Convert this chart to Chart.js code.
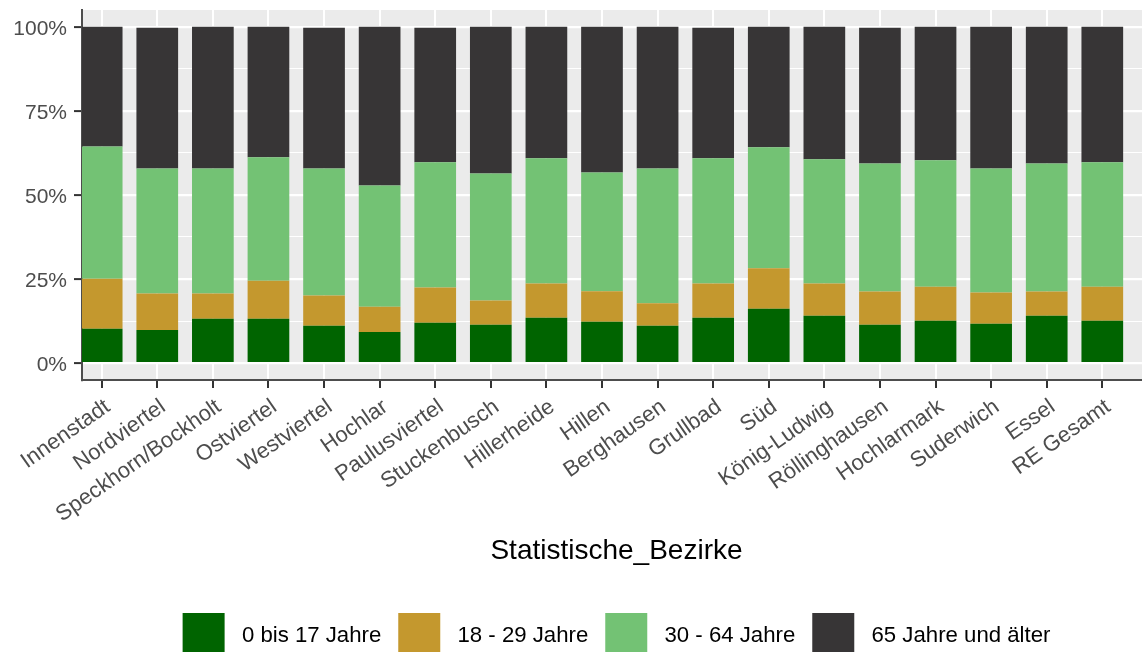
<!DOCTYPE html>
<html>
<head>
<meta charset="utf-8">
<script src="https://cdn.jsdelivr.net/npm/chart.js@4.4.1/dist/chart.umd.min.js"></script>
<style>
  html, body { margin: 0; padding: 0; background: #fff; overflow: hidden; }
  /* the original plot is a little wider than the window and gets cut on the right */
  #wrap { width: 1151px; height: 652px; position: relative; }
</style>
</head>
<body>
<div id="wrap"><canvas id="chart"></canvas></div>
<script>
// districts (x categories)
const bezirke = [
  "Innenstadt", "Nordviertel", "Speckhorn/Bockholt", "Ostviertel", "Westviertel",
  "Hochlar", "Paulusviertel", "Stuckenbusch", "Hillerheide", "Hillen",
  "Berghausen", "Grullbad", "Süd", "König-Ludwig", "Röllinghausen",
  "Hochlarmark", "Suderwich", "Essel", "RE Gesamt"
];

// share of each age group in %
const jahre0_17  = [10.2, 9.9, 13.2, 13.2, 11.1, 9.3, 12.0, 11.4, 13.5, 12.3, 11.1, 13.5, 16.2, 14.1, 11.4, 12.6, 11.7, 14.1, 12.6];
const jahre18_29 = [14.9, 10.8, 7.5, 11.3, 9.0, 7.5, 10.5, 7.2, 10.2, 9.1, 6.7, 10.2, 12.0, 9.6, 9.9, 10.1, 9.3, 7.2, 10.1];
const jahre30_64 = [39.3, 37.2, 37.2, 36.7, 37.8, 36.0, 37.2, 37.8, 37.2, 35.3, 40.1, 37.2, 36.0, 36.9, 38.1, 37.6, 36.9, 38.1, 37.0];
const jahre65    = [35.6, 41.8, 42.1, 38.8, 41.8, 47.2, 40.0, 43.6, 39.1, 43.3, 42.1, 38.8, 35.8, 39.4, 40.3, 39.7, 42.1, 40.6, 40.3];

const gruppen = ["0 bis 17 Jahre", "18 - 29 Jahre", "30 - 64 Jahre", "65 Jahre und älter"];
const farben = ["#006400", "#C4982E", "#73C274", "#373536"];
const yTicks = [0, 25, 50, 75, 100];
const yMinor = [12.5, 37.5, 62.5, 87.5];

const serien = [jahre0_17, jahre18_29, jahre30_64, jahre65];

Chart.defaults.font.family = "'Liberation Sans', Arial, sans-serif";

// grey ggplot panel behind the grid
const panelBg = {
  id: "panelBg",
  beforeDraw(chart) {
    const { ctx, chartArea: a } = chart;
    ctx.save();
    ctx.fillStyle = "#EBEBEB";
    ctx.fillRect(a.left, a.top, a.right - a.left, a.bottom - a.top);
    ctx.restore();
  }
};

const isMajor = v => yTicks.includes(v);

new Chart(document.getElementById("chart"), {
  type: "bar",
  plugins: [panelBg],
  data: {
    datasets: serien.map((werte, i) => ({
      label: gruppen[i],
      data: werte.map((v, j) => ({ x: j, y: v })),
      backgroundColor: farben[i],
      borderWidth: 0,
      categoryPercentage: 1,
      barPercentage: 0.75
    }))
  },
  options: {
    responsive: true,
    maintainAspectRatio: false,
    animation: false,
    layout: { padding: { top: 10, right: 0, bottom: -17, left: 0 } },
    plugins: {
      tooltip: { enabled: false },
      legend: {
        position: "bottom",
        fullSize: false,
        labels: {
          boxWidth: 42,
          boxHeight: 46,
          padding: 17,
          color: "#000",
          font: { size: 22.2 },
          generateLabels(chart) {
            const items = Chart.defaults.plugins.legend.labels.generateLabels(chart);
            items.forEach(it => { it.text = " " + it.text; it.lineWidth = 0; });
            return items;
          }
        }
      }
    },
    scales: {
      x: {
        type: "linear",
        stacked: true,
        offset: false,
        min: -0.354,
        max: 18.876,
        afterBuildTicks: s => { s.ticks = bezirke.map((_, i) => ({ value: i })); },
        afterFit: s => { s.height = 216; s.paddingLeft = 0; s.paddingRight = 0; },
        ticks: {
          stepSize: 1,
          autoSkip: false,
          minRotation: 35,
          maxRotation: 35,
          padding: 6,
          labelOffset: 6,
          color: "#4D4D4D",
          font: { size: 22 },
          callback: v => bezirke[v] ?? ""
        },
        grid: {
          offset: false,
          color: "#FFFFFF",
          lineWidth: 2,
          drawTicks: true,
          tickLength: 8,
          tickColor: "#333333",
          tickWidth: 2
        },
        border: { display: true, color: "#4D4D4D", width: 2 },
        title: {
          display: true,
          text: "Statistische_Bezirke",
          color: "#000",
          font: { size: 28 },
          padding: { top: 0, bottom: 28 }
        }
      },
      y: {
        stacked: true,
        min: -5,
        max: 105,
        afterBuildTicks: s => {
          s.ticks = yTicks.concat(yMinor).sort((a, b) => a - b).map(v => ({ value: v }));
        },
        afterFit: s => { s.width = 82; s.paddingTop = 0; s.paddingBottom = 0; },
        ticks: {
          stepSize: 12.5,
          padding: 7,
          labelOffset: 2,
          color: "#4D4D4D",
          font: { size: 21 },
          callback: v => isMajor(v) ? v + "%" : ""
        },
        grid: {
          color: "#FFFFFF",
          lineWidth: c => isMajor(c.tick.value) ? 2.2 : 1.1,
          drawTicks: true,
          tickLength: 8,
          tickColor: c => isMajor(c.tick.value) ? "#333333" : "rgba(0,0,0,0)",
          tickWidth: 2
        },
        border: { display: true, color: "#4D4D4D", width: 2 }
      }
    }
  }
});
</script>
</body>
</html>
